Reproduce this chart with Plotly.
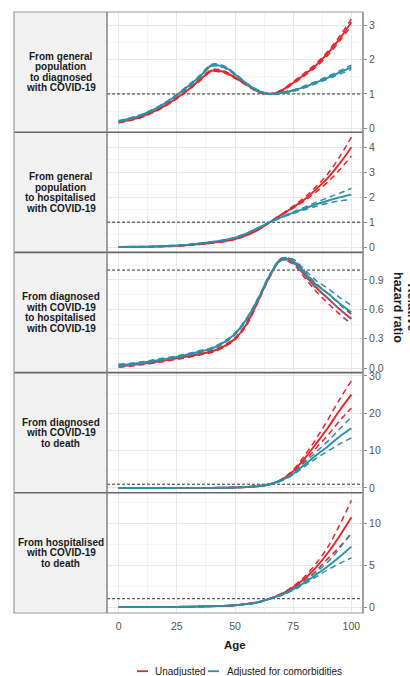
import plotly.graph_objects as go
from plotly.subplots import make_subplots

ages = [0, 5, 10, 15, 20, 25, 30, 35, 40, 45, 50, 55, 60, 65, 70, 75, 80, 85, 90, 95, 100]

panel_labels = [
    ["From general", "population", "to diagnosed", "with COVID-19"],
    ["From general", "population", "to hospitalised", "with COVID-19"],
    ["From diagnosed", "with COVID-19", "to hospitalised", "with COVID-19"],
    ["From diagnosed", "with COVID-19", "to death"],
    ["From hospitalised", "with COVID-19", "to death"],
]
series_names = ["Unadjusted", "Adjusted for comorbidities"]

# Panel 1: general population -> diagnosed
p1_unadj = [0.17, 0.24, 0.34, 0.48, 0.66, 0.88, 1.13, 1.42, 1.68, 1.65, 1.48, 1.27, 1.07, 1.00, 1.10, 1.33, 1.58, 1.85, 2.20, 2.62, 3.10]
p1_unadj_lo = [0.15, 0.22, 0.32, 0.46, 0.64, 0.86, 1.11, 1.39, 1.65, 1.62, 1.46, 1.25, 1.05, 0.99, 1.08, 1.30, 1.54, 1.80, 2.14, 2.55, 3.00]
p1_unadj_hi = [0.19, 0.26, 0.36, 0.50, 0.68, 0.90, 1.15, 1.45, 1.71, 1.68, 1.50, 1.29, 1.09, 1.01, 1.12, 1.36, 1.62, 1.90, 2.26, 2.70, 3.20]
p1_adj = [0.20, 0.28, 0.39, 0.54, 0.73, 0.97, 1.23, 1.52, 1.84, 1.80, 1.58, 1.30, 1.09, 1.00, 1.03, 1.10, 1.21, 1.34, 1.48, 1.63, 1.78]
p1_adj_lo = [0.18, 0.26, 0.37, 0.52, 0.71, 0.95, 1.20, 1.49, 1.81, 1.77, 1.56, 1.28, 1.07, 0.99, 1.01, 1.08, 1.18, 1.31, 1.44, 1.58, 1.72]
p1_adj_hi = [0.22, 0.30, 0.41, 0.56, 0.75, 0.99, 1.26, 1.55, 1.87, 1.83, 1.60, 1.32, 1.11, 1.01, 1.05, 1.12, 1.24, 1.37, 1.52, 1.68, 1.84]

# Panel 2: general population -> hospitalised
p2_unadj = [0.00, 0.005, 0.01, 0.02, 0.03, 0.05, 0.08, 0.12, 0.17, 0.23, 0.32, 0.48, 0.70, 1.00, 1.30, 1.60, 1.92, 2.33, 2.78, 3.35, 4.00]
p2_unadj_lo = [0.00, 0.00, 0.005, 0.015, 0.025, 0.04, 0.07, 0.11, 0.16, 0.22, 0.31, 0.47, 0.69, 0.99, 1.28, 1.56, 1.86, 2.22, 2.62, 3.10, 3.65]
p2_unadj_hi = [0.01, 0.01, 0.015, 0.025, 0.035, 0.06, 0.09, 0.13, 0.18, 0.24, 0.33, 0.49, 0.71, 1.01, 1.32, 1.64, 2.00, 2.44, 2.95, 3.62, 4.40]
p2_adj = [0.01, 0.015, 0.02, 0.03, 0.05, 0.07, 0.10, 0.15, 0.21, 0.28, 0.38, 0.55, 0.77, 1.00, 1.20, 1.38, 1.55, 1.72, 1.86, 1.99, 2.10]
p2_adj_lo = [0.005, 0.01, 0.015, 0.025, 0.04, 0.06, 0.09, 0.14, 0.20, 0.27, 0.37, 0.54, 0.76, 0.99, 1.18, 1.35, 1.50, 1.64, 1.76, 1.85, 1.90]
p2_adj_hi = [0.015, 0.02, 0.025, 0.035, 0.06, 0.08, 0.11, 0.16, 0.22, 0.29, 0.39, 0.56, 0.78, 1.01, 1.22, 1.41, 1.60, 1.80, 1.98, 2.16, 2.35]

# Panel 3: diagnosed -> hospitalised
p3_unadj = [0.02, 0.03, 0.045, 0.06, 0.08, 0.10, 0.12, 0.145, 0.17, 0.22, 0.30, 0.45, 0.69, 0.94, 1.11, 1.08, 0.95, 0.82, 0.71, 0.60, 0.50]
p3_unadj_lo = [0.01, 0.02, 0.035, 0.05, 0.07, 0.09, 0.11, 0.135, 0.16, 0.21, 0.29, 0.44, 0.68, 0.93, 1.10, 1.06, 0.92, 0.78, 0.66, 0.55, 0.45]
p3_unadj_hi = [0.03, 0.04, 0.055, 0.07, 0.09, 0.11, 0.13, 0.155, 0.18, 0.23, 0.31, 0.46, 0.70, 0.95, 1.12, 1.10, 0.98, 0.86, 0.76, 0.65, 0.55]
p3_adj = [0.03, 0.04, 0.055, 0.075, 0.095, 0.115, 0.14, 0.17, 0.20, 0.26, 0.35, 0.50, 0.71, 0.95, 1.11, 1.09, 0.97, 0.85, 0.76, 0.66, 0.57]
p3_adj_lo = [0.02, 0.03, 0.045, 0.065, 0.085, 0.105, 0.13, 0.16, 0.19, 0.25, 0.34, 0.49, 0.70, 0.94, 1.10, 1.07, 0.94, 0.81, 0.71, 0.60, 0.51]
p3_adj_hi = [0.04, 0.05, 0.065, 0.085, 0.105, 0.125, 0.15, 0.18, 0.21, 0.27, 0.36, 0.51, 0.72, 0.96, 1.12, 1.11, 1.00, 0.89, 0.81, 0.72, 0.64]

# Panel 4: diagnosed -> death
p4_unadj = [0, 0, 0, 0, 0, 0.01, 0.01, 0.02, 0.03, 0.06, 0.12, 0.25, 0.50, 1.00, 2.20, 4.50, 8.00, 12.0, 16.2, 20.8, 25.0]
p4_unadj_lo = [0, 0, 0, 0, 0, 0.005, 0.005, 0.015, 0.025, 0.05, 0.11, 0.23, 0.47, 0.97, 2.05, 4.20, 7.30, 10.8, 14.2, 18.0, 21.4]
p4_unadj_hi = [0, 0, 0, 0, 0, 0.015, 0.015, 0.025, 0.035, 0.07, 0.13, 0.27, 0.53, 1.03, 2.35, 4.80, 8.80, 13.3, 18.4, 23.8, 28.7]
p4_adj = [0, 0, 0, 0, 0, 0.01, 0.01, 0.02, 0.03, 0.05, 0.10, 0.22, 0.45, 1.00, 2.00, 3.80, 6.30, 8.80, 11.2, 13.8, 16.0]
p4_adj_lo = [0, 0, 0, 0, 0, 0.005, 0.005, 0.015, 0.025, 0.04, 0.09, 0.20, 0.42, 0.97, 1.88, 3.55, 5.80, 8.00, 9.90, 11.8, 13.4]
p4_adj_hi = [0, 0, 0, 0, 0, 0.015, 0.015, 0.025, 0.035, 0.06, 0.11, 0.24, 0.48, 1.03, 2.12, 4.05, 6.90, 9.70, 12.6, 15.8, 19.0]

# Panel 5: hospitalised -> death
p5_unadj = [0, 0.005, 0.01, 0.015, 0.02, 0.03, 0.05, 0.07, 0.10, 0.15, 0.23, 0.38, 0.60, 1.00, 1.55, 2.35, 3.40, 4.80, 6.50, 8.50, 10.7]
p5_unadj_lo = [0, 0.003, 0.008, 0.012, 0.017, 0.026, 0.045, 0.065, 0.09, 0.14, 0.22, 0.36, 0.58, 0.97, 1.48, 2.22, 3.15, 4.35, 5.80, 7.20, 8.70]
p5_unadj_hi = [0, 0.007, 0.012, 0.018, 0.023, 0.034, 0.055, 0.075, 0.11, 0.16, 0.24, 0.40, 0.62, 1.03, 1.62, 2.48, 3.65, 5.25, 7.20, 9.80, 12.7]
p5_adj = [0, 0.005, 0.01, 0.015, 0.02, 0.03, 0.05, 0.07, 0.10, 0.15, 0.22, 0.36, 0.58, 1.00, 1.45, 2.10, 2.95, 3.90, 4.90, 6.00, 7.20]
p5_adj_lo = [0, 0.003, 0.008, 0.012, 0.017, 0.026, 0.045, 0.065, 0.09, 0.14, 0.21, 0.34, 0.56, 0.97, 1.40, 2.00, 2.78, 3.62, 4.45, 5.20, 5.85]
p5_adj_hi = [0, 0.007, 0.012, 0.018, 0.023, 0.034, 0.055, 0.075, 0.11, 0.16, 0.23, 0.38, 0.60, 1.03, 1.50, 2.20, 3.12, 4.20, 5.40, 7.00, 8.90]

ref_value = 1
x_ticks = [0, 25, 50, 75, 100]

panels = [
    (p1_unadj, p1_unadj_lo, p1_unadj_hi, p1_adj, p1_adj_lo, p1_adj_hi),
    (p2_unadj, p2_unadj_lo, p2_unadj_hi, p2_adj, p2_adj_lo, p2_adj_hi),
    (p3_unadj, p3_unadj_lo, p3_unadj_hi, p3_adj, p3_adj_lo, p3_adj_hi),
    (p4_unadj, p4_unadj_lo, p4_unadj_hi, p4_adj, p4_adj_lo, p4_adj_hi),
    (p5_unadj, p5_unadj_lo, p5_unadj_hi, p5_adj, p5_adj_lo, p5_adj_hi),
]
y_ranges = [[-0.12, 3.4], [-0.21, 4.6], [-0.045, 1.18], [-1.3, 30.9], [-0.7, 13.6]]
y_dticks = [1, 1, 0.3, 10, 5]
y_formats = ["d", "d", ".1f", "d", "d"]

RED = "#E8252B"
TEAL = "#2A8FAA"
colors = [RED, TEAL]

W, H = 410, 676
ML, MR, MT, MB = 107, 47, 9, 63
PW = W - ML - MR
PH = H - MT - MB
FONT = "Liberation Sans, Arial, sans-serif"

fig = make_subplots(rows=5, cols=1, shared_xaxes=True, vertical_spacing=0)

for i, pdata in enumerate(panels):
    row = i + 1
    fig.add_trace(go.Scatter(x=[-5, 105], y=[ref_value, ref_value], mode="lines",
                             line=dict(color="#333333", width=1, dash="3px,2px"),
                             showlegend=False, hoverinfo="skip"), row=row, col=1)
    for s in range(2):
        est, lo, hi = pdata[3 * s], pdata[3 * s + 1], pdata[3 * s + 2]
        for band in (lo, hi):
            fig.add_trace(go.Scatter(x=ages, y=band, mode="lines",
                                     line=dict(color=colors[s], width=1.5, dash="6px,4px", shape="spline"),
                                     showlegend=False, hoverinfo="skip"), row=row, col=1)
        fig.add_trace(go.Scatter(x=ages, y=est, mode="lines", name=series_names[s],
                                 line=dict(color=colors[s], width=1.9, shape="spline"),
                                 showlegend=False), row=row, col=1)
    fig.update_yaxes(row=row, col=1, side="right", range=y_ranges[i], dtick=y_dticks[i], tick0=0,
                     tickformat=y_formats[i], showgrid=True, gridcolor="#e8e8e8", gridwidth=1,
                     minor=dict(dtick=y_dticks[i] / 2, tick0=0, showgrid=True, gridcolor="#f4f4f4", gridwidth=1),
                     ticks="outside", ticklen=3, tickcolor="#8a8a8a", tickwidth=1,
                     tickfont=dict(family=FONT, size=10.5, color="#555555"),
                     zeroline=False, showline=False)
    fig.update_xaxes(row=row, col=1, range=[-5, 105], tickvals=x_ticks, showgrid=True,
                     gridcolor="#e8e8e8", gridwidth=1,
                     minor=dict(dtick=12.5, tick0=0, showgrid=True, gridcolor="#f4f4f4", gridwidth=1),
                     zeroline=False, showline=False, ticks="",
                     tickfont=dict(family=FONT, size=10.5, color="#555555"))

fig.update_xaxes(row=5, col=1, showticklabels=True, ticks="outside", ticklen=3, tickcolor="rgba(0,0,0,0)")

def px_x(px):
    return (px - ML) / PW

def px_y(py):
    return 1 - (py - MT) / PH

shapes = []
annotations = []
strip_x0 = px_x(14)
for i in range(5):
    y1 = 1 - 0.2 * i
    y0 = y1 - 0.2
    shapes.append(dict(type="rect", xref="paper", yref="paper", x0=strip_x0, x1=0, y0=y0, y1=y1,
                       fillcolor="#f2f2f2", line=dict(width=0), layer="below"))
    yc = (y0 + y1) / 2
    lines = panel_labels[i]
    n = len(lines)
    step = 10.6 / PH
    for k, txt in enumerate(lines):
        annotations.append(dict(xref="paper", yref="paper", x=px_x(60.5), y=yc + ((n - 1) / 2 - k) * step,
                                text="<b>" + txt + "</b>", showarrow=False, xanchor="center", yanchor="middle",
                                font=dict(family=FONT, size=10, color="#1a1a1a")))
    if i > 0:
        shapes.append(dict(type="line", xref="paper", yref="paper", x0=strip_x0, x1=1, y0=y1, y1=y1,
                           line=dict(color="#666666", width=1.6)))

# outer border
shapes.append(dict(type="rect", xref="paper", yref="paper", x0=strip_x0, x1=1, y0=0, y1=1,
                   line=dict(color="#9a9a9a", width=1.2)))
shapes.append(dict(type="line", xref="paper", yref="paper", x0=0, x1=0, y0=0, y1=1,
                   line=dict(color="#7a7a7a", width=1.4)))
shapes.append(dict(type="line", xref="paper", yref="paper", x0=1, x1=1, y0=0, y1=1,
                   line=dict(color="#8a8a8a", width=1.2)))

# axis titles
annotations.append(dict(xref="paper", yref="paper", x=0.5, y=px_y(645), text="<b>Age</b>", showarrow=False,
                        xanchor="center", yanchor="middle", font=dict(family=FONT, size=11.5, color="#1a1a1a")))
annotations.append(dict(xref="paper", yref="paper", x=px_x(398.5), y=px_y(306), text="<b>hazard ratio</b>",
                        showarrow=False, textangle=90, xanchor="center", yanchor="middle",
                        font=dict(family=FONT, size=12.5, color="#1a1a1a")))
annotations.append(dict(xref="paper", yref="paper", x=px_x(412), y=px_y(306), text="<b>Relative</b>",
                        showarrow=False, textangle=90, xanchor="center", yanchor="middle",
                        font=dict(family=FONT, size=12.5, color="#1a1a1a")))

# legend (drawn manually to match short key lines)
leg_y = px_y(671.5)
leg_items = [(137, 148, 153, series_names[0], RED), (208, 219, 225, series_names[1], TEAL)]
for x0, x1, xt, name, col in leg_items:
    shapes.append(dict(type="line", xref="paper", yref="paper", x0=px_x(x0), x1=px_x(x1), y0=leg_y, y1=leg_y,
                       line=dict(color=col, width=1.8)))
    annotations.append(dict(xref="paper", yref="paper", x=px_x(xt), y=leg_y, text=name, showarrow=False,
                            xanchor="left", yanchor="middle", font=dict(family=FONT, size=10, color="#1a1a1a")))

fig.update_layout(width=W, height=H, margin=dict(l=ML, r=MR, t=MT, b=MB),
                  paper_bgcolor="white", plot_bgcolor="white", showlegend=False,
                  shapes=shapes, annotations=annotations, font=dict(family=FONT))

fig.write_html("out.html", config={"displayModeBar": False},
               post_script="document.body.style.margin='0px';document.body.style.overflow='hidden';")
